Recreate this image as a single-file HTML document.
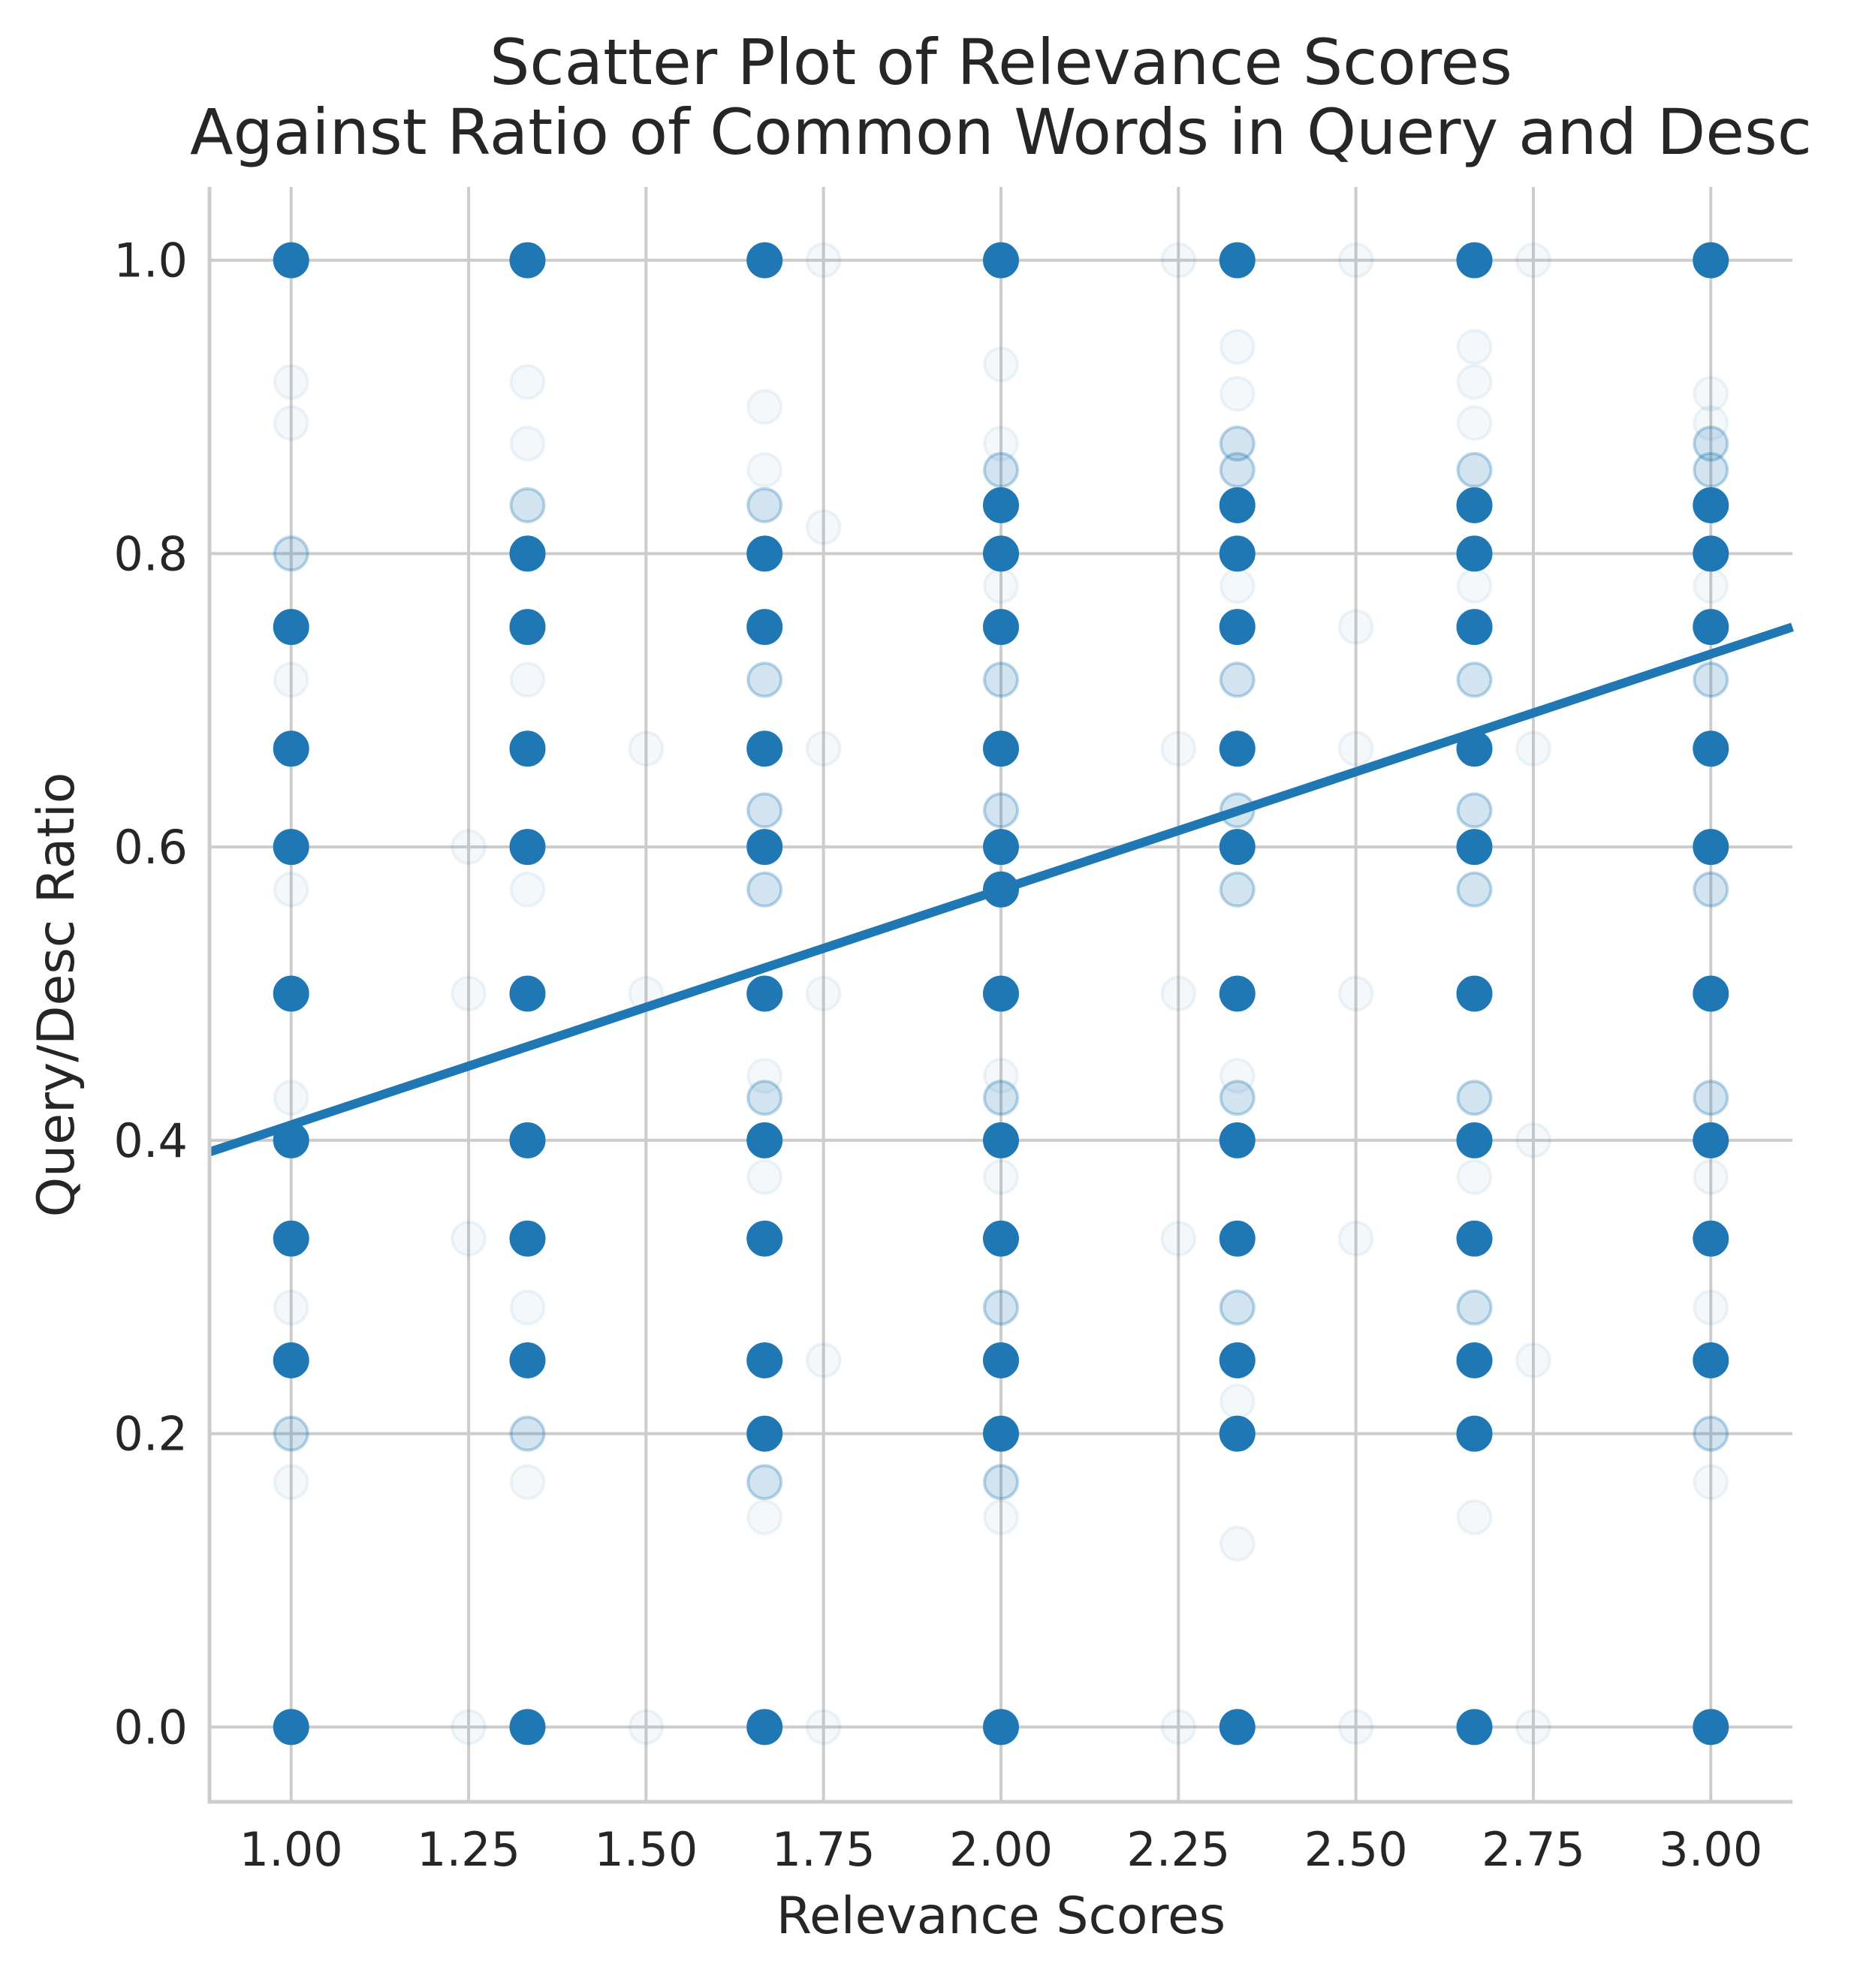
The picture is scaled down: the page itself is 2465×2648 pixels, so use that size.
<!DOCTYPE html>
<html><head><meta charset="utf-8"><style>
html,body{margin:0;padding:0;background:#fff;}
svg text{font-family:"DejaVu Sans","Liberation Sans",sans-serif;fill:#262626;}
</style></head><body>
<svg id="chart" width="2465" height="2643" xmlns="http://www.w3.org/2000/svg">
<text x="1333" y="112" font-size="84" text-anchor="middle">Scatter Plot of Relevance Scores</text>
<text x="1333" y="205" font-size="84" text-anchor="middle">Against Ratio of Common Words in Query and Desc</text>
<g id="grid"></g>
<g id="faint"></g>
<g id="mid"></g>
<g id="solid"></g>
<g id="reg"></g>
<g id="axes"></g>
<text x="1333" y="2575" font-size="68" text-anchor="middle">Relevance Scores</text>
<text transform="translate(98,1325) rotate(-90)" font-size="68" text-anchor="middle">Query/Desc Ratio</text>
</svg>
<script>
const xTicks = [1.00, 1.25, 1.50, 1.75, 2.00, 2.25, 2.50, 2.75, 3.00];
const xTickLabels = ["1.00","1.25","1.50","1.75","2.00","2.25","2.50","2.75","3.00"];
const yTicks = [0.0, 0.2, 0.4, 0.6, 0.8, 1.0];
const yTickLabels = ["0.0","0.2","0.4","0.6","0.8","1.0"];
const solidX = [1,1,1,1,1,1,1,1,1, 1.333,1.333,1.333,1.333,1.333,1.333,1.333,1.333,1.333,1.333, 1.667,1.667,1.667,1.667,1.667,1.667,1.667,1.667,1.667,1.667,1.667, 2,2,2,2,2,2,2,2,2,2,2,2,2, 2.333,2.333,2.333,2.333,2.333,2.333,2.333,2.333,2.333,2.333,2.333,2.333, 2.667,2.667,2.667,2.667,2.667,2.667,2.667,2.667,2.667,2.667,2.667,2.667, 3,3,3,3,3,3,3,3,3,3,3];
const solidY = [1,0.75,0.667,0.6,0.5,0.4,0.333,0.25,0, 1,0.8,0.75,0.667,0.6,0.5,0.4,0.333,0.25,0, 1,0.8,0.75,0.667,0.6,0.5,0.4,0.333,0.25,0.2,0, 1,0.833,0.8,0.75,0.667,0.6,0.571,0.5,0.4,0.333,0.25,0.2,0, 1,0.833,0.8,0.75,0.667,0.6,0.5,0.4,0.333,0.25,0.2,0, 1,0.833,0.8,0.75,0.667,0.6,0.5,0.4,0.333,0.25,0.2,0, 1,0.833,0.8,0.75,0.667,0.6,0.5,0.4,0.333,0.25,0];
const midX = [1,1,1, 1.333,1.333,1.333, 1.667,1.667,1.667,1.667,1.667,1.667, 2,2,2,2,2,2, 2.333,2.333,2.333,2.333,2.333,2.333,2.333, 2.667,2.667,2.667,2.667,2.667,2.667,2.667, 3,3,3,3,3,3];
const midY = [0.8,0.2,0.6, 0.2,0.4,0.833, 0.833,0.714,0.625,0.571,0.429,0.167, 0.857,0.714,0.625,0.429,0.286,0.167, 0.857,0.875,0.714,0.625,0.571,0.429,0.286, 0.857,0.714,0.625,0.571,0.429,0.286,0.2, 0.857,0.714,0.571,0.2,0.875,0.429];
const faintX = [1,1,1,1,1,1,1, 1.25,1.25,1.25,1.25, 1.333,1.333,1.333,1.333,1.333,1.333, 1.5,1.5,1.5, 1.667,1.667,1.667,1.667,1.667, 1.75,1.75,1.75,1.75,1.75,1.75, 2,2,2,2,2,2, 2.25,2.25,2.25,2.25,2.25, 2.333,2.333,2.333,2.333,2.333,2.333, 2.5,2.5,2.5,2.5,2.5,2.5, 2.667,2.667,2.667,2.667,2.667,2.667, 2.75,2.75,2.75,2.75,2.75, 3,3,3,3,3,3];
const faintY = [0.917,0.889,0.714,0.571,0.429,0.286,0.167, 0.6,0.5,0.333,0, 0.917,0.875,0.714,0.571,0.286,0.167, 0.667,0.5,0, 0.9,0.857,0.444,0.375,0.143, 1,0.818,0.667,0.5,0.25,0, 0.929,0.875,0.778,0.444,0.375,0.143, 1,0.667,0.5,0.333,0, 0.941,0.909,0.778,0.444,0.222,0.125, 1,0.75,0.667,0.5,0.333,0, 0.941,0.917,0.889,0.778,0.375,0.143, 1,0.667,0.4,0.25,0, 0.909,0.889,0.778,0.375,0.286,0.167];
const regSlope = 0.1605;
const regIntercept = 0.2500;

const X0 = 0.885, X1 = 3.115, PX0 = 279, PX1 = 2387;
const Y0 = -0.051, Y1 = 1.05, PY0 = 2400, PY1 = 249;
const sx = v => PX0 + (v - X0) / (X1 - X0) * (PX1 - PX0);
const sy = v => PY0 + (v - Y0) / (Y1 - Y0) * (PY1 - PY0);
const NS = "http://www.w3.org/2000/svg";
function mk(tag, attrs, parent){const e=document.createElementNS(NS,tag);for(const k in attrs)e.setAttribute(k,attrs[k]);parent.appendChild(e);return e;}
const grid=document.getElementById('grid'), axes=document.getElementById('axes');
xTicks.forEach((t,i)=>{
  const l=mk('line',{x1:sx(t),x2:sx(t),y1:PY1,y2:PY0,stroke:'#cccccc','stroke-width':4},grid);
  
  
  const tx=mk('text',{x:sx(t),y:2485,'font-size':62,'text-anchor':'middle'},axes);
  tx.textContent=xTickLabels[i];
  
  
});
yTicks.forEach((t,i)=>{
  const l=mk('line',{x1:PX0,x2:PX1,y1:sy(t),y2:sy(t),stroke:'#cccccc','stroke-width':4},grid);
  
  
  const tx=mk('text',{x:250,y:sy(t)+22,'font-size':62,'text-anchor':'end'},axes);
  tx.textContent=yTickLabels[i];
  
  
});
const ls=mk('line',{x1:PX0,x2:PX0,y1:PY1,y2:PY0+2,stroke:'#cccccc','stroke-width':5},axes);


const bs=mk('line',{x1:PX0-2,x2:PX1,y1:PY0,y2:PY0,stroke:'#cccccc','stroke-width':5},axes);


function pts(xs,ys,g,op,name){xs.forEach((x,i)=>{
  const c=mk('circle',{cx:sx(x),cy:sy(ys[i]),r:22,fill:'#1f77b4','fill-opacity':op,stroke:'#1f77b4','stroke-opacity':op*1.5,'stroke-width':4},g);
  
  
});}
pts(faintX,faintY,document.getElementById('faint'),0.05,'faint-point');
pts(midX,midY,document.getElementById('mid'),0.2,'mid-point');
pts(solidX,solidY,document.getElementById('solid'),1,'data-point');
const rl=mk('line',{x1:sx(X0),y1:sy(regIntercept+regSlope*X0),x2:sx(X1),y2:sy(regIntercept+regSlope*X1),stroke:'#1f77b4','stroke-width':12},document.getElementById('reg'));


</script>
</body></html>
